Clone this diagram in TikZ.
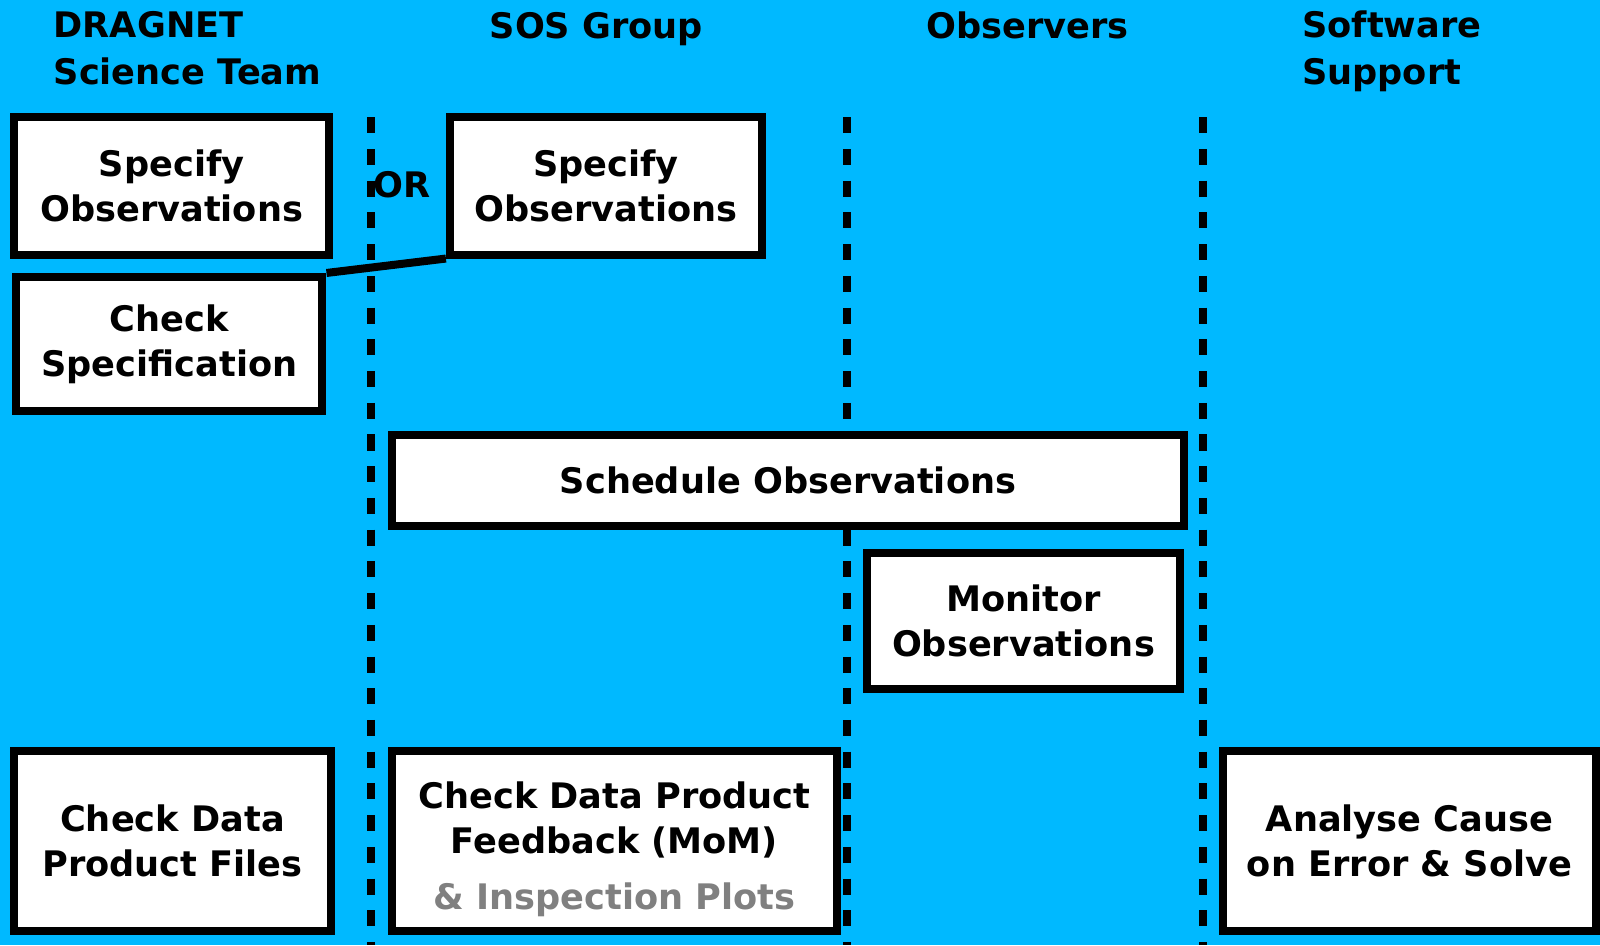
\documentclass[tikz,border=0pt]{standalone}
\usepackage{fontspec}
\setmainfont{DejaVu Sans}
\usepackage{tikz}
\usepackage{xcolor}
\definecolor{sfondo}{RGB}{0,185,255}
\definecolor{grigio}{RGB}{128,128,128}

\begin{document}
\begin{tikzpicture}[x = 0.01cm, y = -0.01cm,
    font = \fontsize{10}{12.8}\selectfont\bfseries,
    scatola/.style = {draw, line width = 0.08cm, fill = white, align = center, inner sep = 0pt},
    corsia/.style = {line width = 0.08cm, dash pattern = on 0.16cm off 0.157cm},
    titolo/.style = {anchor = base west, align = left, inner sep = 0pt}]
    % Parametri
    \pgfmathsetmacro{\ymin}{117.3}
    \pgfmathsetmacro{\ymax}{945}
    \pgfmathsetmacro{\xuno}{370.5}
    \pgfmathsetmacro{\xdue}{846.7}
    \pgfmathsetmacro{\xtre}{1203}
    % Sfondo
    \useasboundingbox (0,0) rectangle (1600,945);
    \fill[sfondo] (0,0) rectangle (1600,945);
    % Corsie
    \draw[corsia] (\xuno,\ymin) -- (\xuno,\ymax);
    \draw[corsia] (\xdue,\ymin) -- (\xdue,\ymax);
    \draw[corsia] (\xtre,\ymin) -- (\xtre,\ymax);
    % Titoli (base = ultima riga)
    \node[titolo] (tdragnet) at (53,84.7) {DRAGNET\\[0.6pt]Science Team};
    \node[titolo] (tsos) at (489,38) {SOS Group};
    \node[titolo] (tobs) at (925.5,38) {Observers};
    \node[titolo] (tsoft) at (1301.5,84.7) {Software\\[0.6pt]Support};
    % Specifica
    \node[scatola, minimum width = 3.15cm, minimum height = 1.37cm] (specdrag) at (171.6,186) {Specify\\Observations};
    \node[scatola, minimum width = 3.12cm, minimum height = 1.37cm] (specsos) at (606,186) {Specify\\Observations};
    \node[inner sep = 0pt] (oppure) at (402,185) {OR};
    \node[scatola, minimum width = 3.06cm, minimum height = 1.34cm] (checkspec) at (169.4,344) {Check\\Specification};
    \draw[line width = 0.08cm] (checkspec.north east) -- (specsos.south west);
    % Osservazioni
    \node[scatola, minimum width = 7.92cm, minimum height = 0.91cm] (sched) at (788,480.5) {Schedule Observations};
    \node[scatola, minimum width = 3.13cm, minimum height = 1.36cm] (monitor) at (1023.5,621) {Monitor\\Observations};
    % Controllo dati
    \node[scatola, minimum width = 3.17cm, minimum height = 1.80cm] (checkfiles) at (172.5,841) {Check Data\\Product Files};
    \node[scatola, minimum width = 4.45cm, minimum height = 1.80cm] (checkfeed) at (614.5,841) {\rule{0pt}{12.2pt}Check Data Product\\Feedback (MoM)\\[3pt]\textcolor{grigio}{\& Inspection Plots}};
    \node[scatola, minimum width = 3.73cm, minimum height = 1.80cm] (analyse) at (1409.5,841) {Analyse Cause\\on Error \& Solve};
\end{tikzpicture}
\end{document}
